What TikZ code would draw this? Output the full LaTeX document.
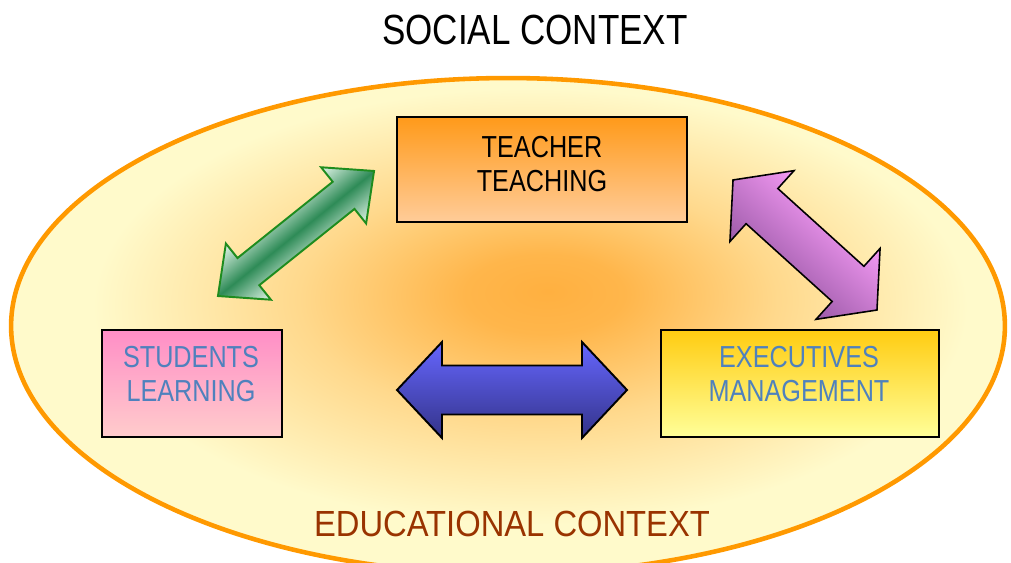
\documentclass[tikz,border=0pt]{standalone}
\usepackage{fontspec}
\setmainfont[FakeStretch=0.83]{Liberation Sans}
\newfontfamily\ctxfont[FakeStretch=0.9]{Liberation Sans}
\usetikzlibrary{positioning}
\definecolor{ringorange}{HTML}{FF9900}
\definecolor{paleyellow}{HTML}{FFFACB}
\definecolor{glow}{HTML}{FFB040}
\definecolor{labelblue}{HTML}{4F81BD}
\definecolor{ctxbrown}{HTML}{993300}
\definecolor{teachtop}{HTML}{FF9A1A}
\definecolor{teachbot}{HTML}{FFCC99}
\definecolor{studtop}{HTML}{FF8EC6}
\definecolor{studbot}{HTML}{FFCCCC}
\definecolor{exectop}{HTML}{FFCC11}
\definecolor{execbot}{HTML}{FFFF99}
\definecolor{greenline}{HTML}{1E8C1E}
\definecolor{greendark}{HTML}{2E8B57}
\definecolor{greenlight}{HTML}{E2F5E8}
\definecolor{purplelight}{HTML}{F49AF4}
\definecolor{purpledark}{HTML}{9C5AA8}
\definecolor{bluetop}{HTML}{6666FF}
\definecolor{bluebot}{HTML}{333388}
\pgfdeclareradialshading{ctxglow}{\pgfpoint{2bp}{3.5bp}}{color(0bp)=(glow); color(4bp)=(glow!92!paleyellow); color(12bp)=(glow!45!paleyellow); color(22bp)=(paleyellow); color(50bp)=(paleyellow)}
\begin{document}
\begin{tikzpicture}
  [x=0.02cm,y=-0.02cm]
  \tikzstyle{box} = [draw=black, line width=1.1pt, minimum height=2.14cm]
  \tikzstyle{boxtext} = [align=center, font=\fontsize{17.3}{19.3}\selectfont]
  \tikzstyle{greenarrow} = [draw=greenline, line width=1.1pt, top color=greenlight, bottom color=greenlight, middle color=greendark]
  \tikzstyle{purplearrow} = [draw=black, line width=0.9pt, top color=purplelight, bottom color=purpledark]
  \tikzstyle{bluearrow} = [draw=black, line width=1.1pt, top color=bluetop, bottom color=bluebot]
  \clip (0,0) rectangle (1011,563);
  \path[draw=ringorange, line width=2.6pt, shading=ctxglow] (508,326) ellipse [x radius=9.94cm, y radius=4.96cm];
  \node[font=\fontsize{24}{28}\selectfont] (social) at (535,30) {SOCIAL CONTEXT};
  \node[font=\ctxfont\fontsize{20.7}{24}\selectfont, text=ctxbrown] (educ) at (512,524) {EDUCATIONAL CONTEXT};
  \node[box, minimum width=5.8cm, minimum height=2.1cm, top color=teachtop, bottom color=teachbot] (teacher) at (542,169.5) {};
  \node[box, minimum width=3.6cm, top color=studtop, bottom color=studbot] (students) at (192,383.5) {};
  \node[box, minimum width=5.56cm, top color=exectop, bottom color=execbot] (exec) at (800,383.5) {};
  \node[boxtext] (teacher-t) at (542,164) {TEACHER\\TEACHING};
  \node[boxtext, text=labelblue] (students-t) at (191,374) {STUDENTS\\LEARNING};
  \node[boxtext, text=labelblue] (exec-t) at (799,374) {EXECUTIVES\\MANAGEMENT};
  \coordinate (st) at (296,233.5);
  \coordinate (te) at (805,245);
  \coordinate (se) at (512,390);
  \foreach \c /\a /\l /\h /\s /\H /\st in {st/38.7/100/39/17.4/36/greenarrow, te/-42.1/97/39/23.7/47.8/purplearrow, se/0/115/45/24.5/48/bluearrow}
  {
   \begin{scope}[transform canvas={shift={(\c)},rotate=\a}]
     \draw[\st] (-\l,0) -- ({\h-\l},-\H) -- ({\h-\l},-\s) -- ({\l-\h},-\s) -- ({\l-\h},-\H) -- (\l,0)
       -- ({\l-\h},\H) -- ({\l-\h},\s) -- ({\h-\l},\s) -- ({\h-\l},\H) -- cycle;
   \end{scope}
  }
\end{tikzpicture}
\end{document}
